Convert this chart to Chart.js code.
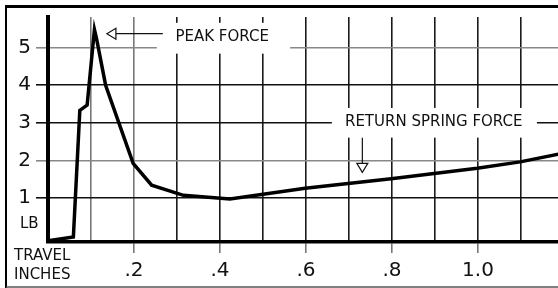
<!DOCTYPE html>
<html lang="en">
<head>
    <meta charset="UTF-8">
    <title>Force vs Travel</title>
    <script src="https://cdn.jsdelivr.net/npm/chart.js"></script>
    <style>
        body, html {
            margin: 0;
            padding: 0;
            background-color: #fff;
        }

        .chart-box {
            width: 558px;
            height: 288px;
        }
    </style>
</head>
<body>
    <div class="chart-box">
        <canvas id="forceChart" width="558" height="288"></canvas>
    </div>

    <script>
        // Curve: travel in inches, force in lb
        const travel = [0, 0.059, 0.074, 0.091, 0.108, 0.113, 0.134, 0.198, 0.241, 0.315, 0.423, 0.598, 0.798, 0.998, 1.098, 1.19];
        const force  = [-0.14, -0.04, 3.33, 3.47, 5.48, 5.23, 4.0, 1.92, 1.34, 1.07, 0.97, 1.26, 1.51, 1.79, 1.96, 2.17];

        const xTicks = [0.1, 0.2, 0.3, 0.4, 0.5, 0.6, 0.7, 0.8, 0.9, 1.0, 1.1];
        const xTickLabels = ['', '.2', '', '.4', '', '.6', '', '.8', '', '1.0', ''];
        const yTicks = [1, 2, 3, 4, 5];
        const yTickLabels = ['1', '2', '3', '4', '5'];

        const peakText = 'PEAK FORCE';
        const springText = 'RETURN SPRING FORCE';

        const tickFont = { family: 'DejaVu Sans', size: 20 };
        const noteFont = '15px "DejaVu Sans"';

        // grid shades (some rules are lighter in the original)
        function xGridColor(c) {
            return c.tick && c.tick.value < 0.25 ? '#777' : '#1a1a1a';
        }
        function yGridColor(c) {
            return c.tick && (c.tick.value === 2 || c.tick.value === 5) ? '#888' : '#111';
        }

        // frame, label boxes, arrows and side texts
        const notes = {
            id: 'notes',
            afterDraw(chart) {
                const ctx = chart.ctx;
                const x = chart.scales.x;
                const y = chart.scales.y;
                const px = v => x.getPixelForValue(v);
                const py = v => y.getPixelForValue(v);

                ctx.save();

                // outer frame
                ctx.strokeStyle = '#000';
                ctx.lineWidth = 3;
                ctx.beginPath();
                ctx.moveTo(5, 6.5);
                ctx.lineTo(558, 6.5);
                ctx.stroke();
                ctx.lineWidth = 2;
                ctx.beginPath();
                ctx.moveTo(6, 5);
                ctx.lineTo(6, 288);
                ctx.stroke();
                ctx.strokeStyle = '#555';
                ctx.lineWidth = 1.5;
                ctx.beginPath();
                ctx.moveTo(6, 287);
                ctx.lineTo(558, 287);
                ctx.stroke();

                // white boxes behind the labels
                ctx.fillStyle = '#fff';
                ctx.fillRect(px(0.253), py(5.66), px(0.563) - px(0.253), py(4.84) - py(5.66));
                ctx.fillRect(px(0.660), py(3.395), px(1.137) - px(0.660), py(2.605) - py(3.395));

                ctx.fillStyle = '#111';
                ctx.font = noteFont;
                ctx.textAlign = 'center';
                ctx.textBaseline = 'middle';
                ctx.fillText(peakText, px(0.405), py(5.27));
                ctx.fillText(springText, px(0.897), py(3.02));

                // peak arrow, pointing left
                ctx.strokeStyle = '#111';
                ctx.lineWidth = 1.2;
                const tx = px(0.137), ty = py(5.37);
                ctx.beginPath();
                ctx.moveTo(tx + 9, ty);
                ctx.lineTo(px(0.267), ty);
                ctx.stroke();
                ctx.beginPath();
                ctx.moveTo(tx, ty);
                ctx.lineTo(tx + 9, ty - 5.5);
                ctx.lineTo(tx + 9, ty + 5.5);
                ctx.closePath();
                ctx.fillStyle = '#fff';
                ctx.fill();
                ctx.stroke();

                // return spring arrow, pointing down
                const ax = px(0.731), ay = py(1.68);
                ctx.beginPath();
                ctx.moveTo(ax, py(2.605));
                ctx.lineTo(ax, ay - 9);
                ctx.stroke();
                ctx.beginPath();
                ctx.moveTo(ax, ay);
                ctx.lineTo(ax - 5.5, ay - 9);
                ctx.lineTo(ax + 5.5, ay - 9);
                ctx.closePath();
                ctx.fill();
                ctx.stroke();

                // axis names
                ctx.fillStyle = '#111';
                ctx.textAlign = 'left';
                ctx.textBaseline = 'alphabetic';
                ctx.fillText('LB', 20, 228);
                ctx.fillText('TRAVEL', 14, 260);
                ctx.fillText('INCHES', 14, 279);

                ctx.restore();
            }
        };

        new Chart(document.getElementById('forceChart').getContext('2d'), {
            type: 'scatter',
            data: {
                datasets: [{
                    data: travel.map((t, i) => ({ x: t, y: force[i] })),
                    showLine: true,
                    borderColor: '#000',
                    borderWidth: 3.5,
                    pointRadius: 0,
                    tension: 0
                }]
            },
            options: {
                responsive: false,
                animation: false,
                devicePixelRatio: 1,
                layout: {
                    padding: { top: 7, left: 6, right: 0, bottom: 0 }
                },
                plugins: {
                    legend: { display: false },
                    tooltip: { enabled: false }
                },
                scales: {
                    x: {
                        type: 'linear',
                        min: 0,
                        max: 1.186,
                        afterBuildTicks: s => { s.ticks = xTicks.map(v => ({ value: v })); },
                        afterFit: s => { s.height = 46; },
                        ticks: {
                            autoSkip: false,
                            maxRotation: 0,
                            padding: 6,
                            color: '#111',
                            font: tickFont,
                            callback: (v, i) => xTickLabels[i]
                        },
                        grid: {
                            color: xGridColor,
                            lineWidth: 1.6,
                            tickLength: 11,
                            tickColor: c => c.tick && xTickLabels[c.index] ? '#777' : 'rgba(0,0,0,0)'
                        },
                        border: { color: '#000', width: 3.5 }
                    },
                    y: {
                        min: -0.172,
                        max: 5.815,
                        afterBuildTicks: s => { s.ticks = yTicks.map(v => ({ value: v })); },
                        afterFit: s => { s.width = 42; },
                        ticks: {
                            padding: 5,
                            color: '#111',
                            font: tickFont,
                            callback: (v, i) => yTickLabels[i]
                        },
                        grid: {
                            color: yGridColor,
                            lineWidth: 1.6,
                            tickLength: 12,
                            tickColor: yGridColor
                        },
                        border: { color: '#000', width: 4 }
                    }
                }
            },
            plugins: [notes]
        });
    </script>
</body>
</html>
